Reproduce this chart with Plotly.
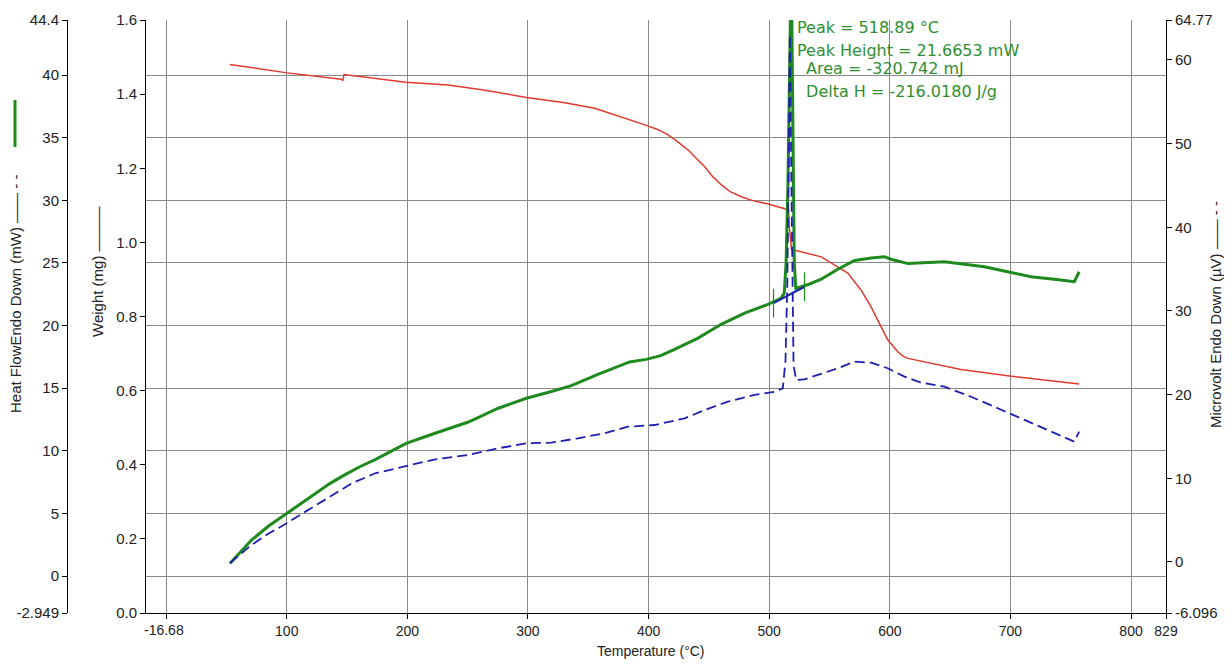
import plotly.graph_objects as go

# ---------------- data ----------------
# Weight (mg) vs temperature (°C)
weight_T = [52.9, 99, 145, 146.5, 147.6, 170.3, 198.8, 233.8, 261.8, 298.8, 330.6, 355.4,
            377.5, 398.8, 408, 416.2, 424, 432.8, 439.5, 446.6, 453, 460.4, 468, 476.9, 487,
            498.5, 511.5, 516.0, 517.0, 518.5, 543.1, 556.9, 565.2, 576.2, 584.5, 592.8,
            598.3, 606.6, 611, 615.0, 631.5, 659.0, 697.7, 728.0, 757.0]
weight_mg = [1.480, 1.458, 1.440, 1.437, 1.453, 1.443, 1.432, 1.4245, 1.412, 1.391, 1.377, 1.362,
             1.339, 1.315, 1.304, 1.290, 1.272, 1.249, 1.227, 1.204, 1.178, 1.155, 1.136, 1.123,
             1.112, 1.104, 1.092, 1.088, 1.030, 0.981, 0.961, 0.934, 0.917, 0.871, 0.826, 0.772,
             0.737, 0.705, 0.693, 0.687, 0.675, 0.657, 0.640, 0.629, 0.618]

# Heat flow (mW) vs temperature (°C)
hf_T = [52.9, 62, 70.8, 85, 100, 112, 123.5, 136, 148.4, 161, 173.3, 186, 199, 223, 250.6,
        275.4, 298.7, 318, 336, 358, 372, 384.3, 398, 410, 421.6, 441, 460.2, 479.6, 499,
        510, 512.5, 514.0, 515.5, 516.8, 517.8, 518.6, 519.3, 520.0, 520.8, 522.1, 533,
        543.1, 556.9, 570.8, 584.5, 595.6, 601, 615, 631.5, 645.3, 661.9, 678.4, 697.7, 717,
        736.4, 753, 757]
hf_mW = [1.0, 2.0, 2.88, 4.0, 5.0, 5.85, 6.6, 7.4, 8.1, 8.75, 9.3, 9.95, 10.6, 11.4, 12.3,
         13.4, 14.2, 14.7, 15.2, 16.1, 16.6, 17.1, 17.3, 17.6, 18.1, 19.0, 20.1, 21.0, 21.7,
         22.2, 22.6, 25.0, 31.0, 40.0, 46.0, 46.0, 40.0, 31.0, 25.0, 22.96, 23.3,
         23.7, 24.5, 25.2, 25.4, 25.5, 25.3, 24.95, 25.0, 25.1, 24.9, 24.7, 24.3, 23.9,
         23.7, 23.5, 24.3]

# Microvolt (µV) vs temperature (°C)
uv_T = [52.9, 70.8, 85, 100, 113, 126.4, 140, 154, 173.3, 199, 223, 250.6, 275.4, 298.7, 319.4,
        341.5, 363.6, 382.9, 405, 429.9, 446.5, 465.8, 487.9, 504.5, 511.3, 513.5, 515.0, 516.2,
        517.2, 518.2, 519.2, 520.2, 522.4, 529.3, 556.9, 570.8, 584.5, 598.3, 612.2, 626,
        645.3, 667.4, 689.5, 711.6, 733.7, 753, 757]
uv_uV = [-0.1, 2.03, 3.4, 4.62, 5.8, 7.01, 8.2, 9.40, 10.6, 11.47, 12.27, 12.79, 13.59, 14.18,
         14.26, 14.78, 15.38, 16.17, 16.37, 17.17, 18.16, 19.16, 19.96, 20.35, 20.76, 24.0, 33.0,
         48.0, 63.0, 48.0, 32.0, 23.5, 21.75, 21.83, 23.15, 23.94, 23.82, 23.15, 22.15, 21.43,
         20.95, 19.75, 18.37, 16.97, 15.57, 14.38, 15.57]

# peak integration baseline and limits (heat flow, mW)
base_T = [503.6, 529.3]
base_mW = [21.8, 23.1]
limit_T = [503.6, 529.3]
limit_mW = [21.8, 23.1]
limit_half = 1.15

# axis ticks
x_ticks = [0, 100, 200, 300, 400, 500, 600, 700, 800, 829]
x_text = ["", "100", "200", "300", "400", "500", "600", "700", "800", "829"]
w_ticks = [0.0, 0.2, 0.4, 0.6, 0.8, 1.0, 1.2, 1.4, 1.6]
hf_ticks = [-2.949, 0, 5, 10, 15, 20, 25, 30, 35, 40, 44.4]
hf_text = ["-2.949", "0", "5", "10", "15", "20", "25", "30", "35", "40", "44.4"]
uv_ticks = [-6.096, 0, 10, 20, 30, 40, 50, 60, 64.77]
uv_text = ["-6.096", "0", "10", "20", "30", "40", "50", "60", "64.77"]

peak_lines = ["Peak = 518.89 °C", "Peak Height = 21.6653 mW", " Area = -320.742 mJ",
              " Delta H = -216.0180 J/g"]

# ---------------- layout helpers (page pixels -> paper) ----------------
OFF = 8                      # body margin of the page
FW, FH = 1216, 651           # figure size (fits the 1232x667 window)
PL, PR, PT, PB = 146, 1166, 20, 613   # plot box, page pixels
def px(x):
    return (x - OFF) / FW
def py(y):
    return (PB - y) / (PB - PT)

FONT = "Liberation Sans, Arial, sans-serif"
RED = "#e03a2e"
GREEN = "#1e8a1e"
BLUE = "#1f1fb0"
TXT = "#222222"
GRID = "#8a8a8a"

fig = go.Figure()
fig.add_trace(go.Scatter(x=weight_T, y=weight_mg, mode="lines", yaxis="y",
                         line=dict(color=RED, width=1.5), hoverinfo="skip"))
fig.add_trace(go.Scatter(x=uv_T, y=uv_uV, mode="lines", yaxis="y3",
                         line=dict(color=BLUE, width=1.8, dash="10px,5px"), hoverinfo="skip"))
fig.add_trace(go.Scatter(x=hf_T, y=hf_mW, mode="lines", yaxis="y2",
                         line=dict(color=GREEN, width=3), hoverinfo="skip"))
fig.add_trace(go.Scatter(x=base_T, y=base_mW, mode="lines", yaxis="y2",
                         line=dict(color=BLUE, width=2), hoverinfo="skip"))
for t, v in zip(limit_T, limit_mW):
    fig.add_trace(go.Scatter(x=[t, t], y=[v - limit_half, v + limit_half], mode="lines",
                             yaxis="y2", line=dict(color=GREEN, width=1.2), hoverinfo="skip"))

def axis_common(size):
    return dict(showline=True, linecolor="black", linewidth=1, ticks="outside",
                ticklen=5, tickcolor="black", zeroline=False, automargin=False,
                tickfont=dict(family=FONT, size=size, color=TXT))

fig.update_layout(
    template="none",
    width=FW, height=FH, autosize=False, showlegend=False,
    paper_bgcolor="white", plot_bgcolor="white",
    margin=dict(l=0, r=0, t=PT - OFF, b=FH - (PB - OFF), pad=0, autoexpand=False),
    xaxis=dict(domain=[px(PL), px(PR)], range=[-16.68, 829], tickvals=x_ticks,
               ticktext=x_text, showgrid=True, gridcolor=GRID, gridwidth=1, **axis_common(14)),
    yaxis=dict(range=[0, 1.6], tickvals=w_ticks, tickformat=".1f", showgrid=False,
               side="left", anchor="x", **axis_common(15)),
    yaxis2=dict(range=[-2.949, 44.4], tickvals=hf_ticks, ticktext=hf_text, showgrid=True,
                gridcolor=GRID, gridwidth=1, overlaying="y", anchor="free", side="left",
                position=px(67), **axis_common(15)),
    yaxis3=dict(range=[-6.096, 64.77], tickvals=uv_ticks, ticktext=uv_text, showgrid=False,
                overlaying="y", anchor="x", side="right", **axis_common(15)),
)

ann = []
ann.append(dict(x=px(164), y=py(PB + 7), xref="paper", yref="paper", text="-16.68",
                showarrow=False, xanchor="center", yanchor="top",
                font=dict(family=FONT, size=14, color=TXT)))
ann.append(dict(x=px(651), y=py(651), xref="paper", yref="paper", text="Temperature (°C)",
                showarrow=False, xanchor="center", yanchor="middle",
                font=dict(family=FONT, size=14, color=TXT)))
ann.append(dict(x=px(15), y=py(294), xref="paper", yref="paper",
                text="Heat FlowEndo Down (mW) —— - -", textangle=-90, showarrow=False,
                xanchor="center", yanchor="middle", font=dict(family=FONT, size=15, color=TXT)))
ann.append(dict(x=px(97), y=py(272), xref="paper", yref="paper",
                text="Weight (mg) ———", textangle=-90, showarrow=False,
                xanchor="center", yanchor="middle", font=dict(family=FONT, size=15, color=TXT)))
ann.append(dict(x=px(1215), y=py(315), xref="paper", yref="paper",
                text="Microvolt Endo Down (µV) —— - -", textangle=-90, showarrow=False,
                xanchor="center", yanchor="middle", font=dict(family=FONT, size=15, color=TXT)))
peak_pos = [(795, 27), (795, 50), (799, 69), (799, 92)]
for txt, (x0, y0) in zip(peak_lines, peak_pos):
    ann.append(dict(x=px(x0), y=py(y0), xref="paper", yref="paper", text=txt,
                    showarrow=False, xanchor="left", yanchor="middle",
                    font=dict(family="DejaVu Sans, sans-serif", size=16, color="#2f8f2f")))
fig.update_layout(annotations=ann)

# green line-style marker next to the heat flow title
fig.add_shape(type="line", xref="paper", yref="paper", x0=px(15), x1=px(15),
              y0=py(100), y1=py(147), line=dict(color=GREEN, width=3))

fig.write_html("out.html")
